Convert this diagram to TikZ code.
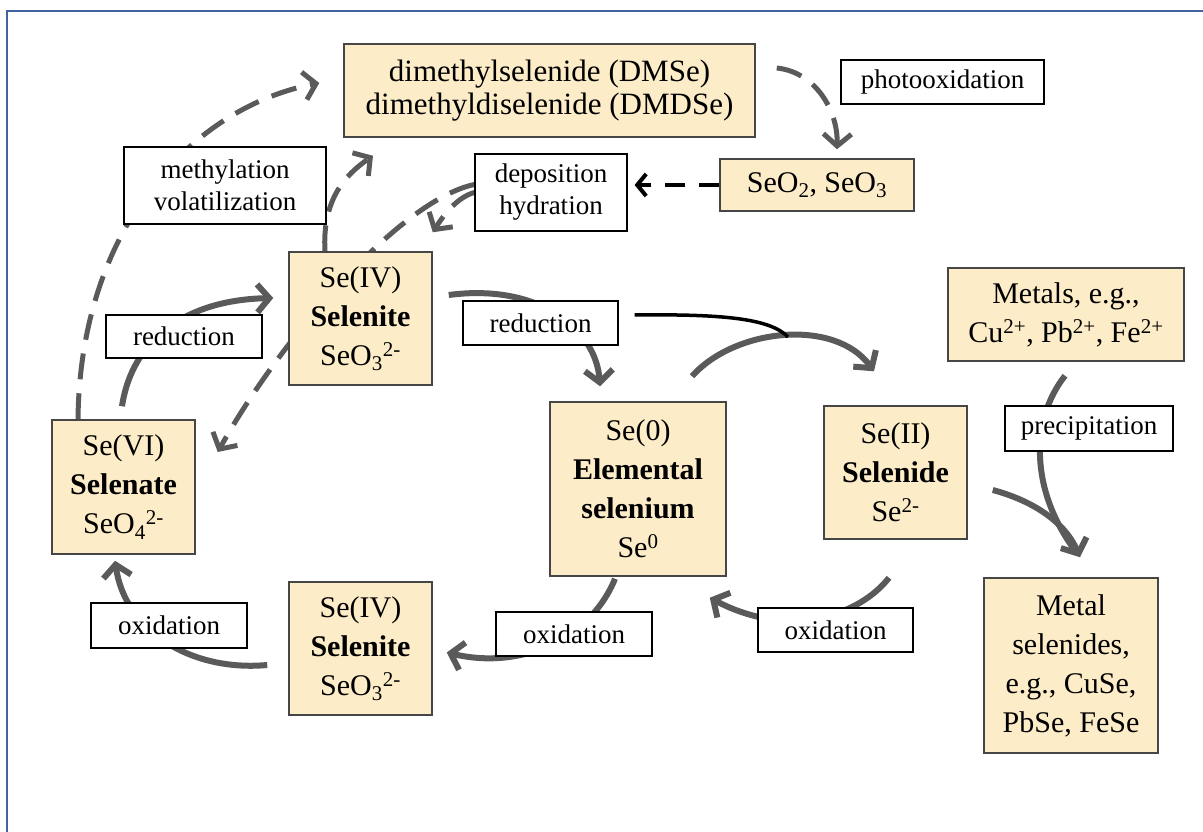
\documentclass[tikz,border=0pt]{standalone}
\usepackage{fontspec}
\setmainfont{Liberation Serif}
\usetikzlibrary{arrows.meta,backgrounds,calc}
\definecolor{boxfill}{RGB}{253,236,200}
\definecolor{boxline}{RGB}{70,70,70}
\definecolor{arrowgray}{RGB}{90,90,90}
\definecolor{frameblue}{RGB}{65,100,160}
\tikzset{species_box/.style={draw=boxline, line width=1.5pt, fill=boxfill, inner sep=0pt, align=center, font=\fontsize{30}{39}\selectfont}}
\tikzset{process_label/.style={draw=black, line width=1.2pt, fill=white, inner sep=0pt, align=center, font=\fontsize{27}{32}\selectfont}}
\tikzset{flow_solid/.style={draw=arrowgray, line width=6pt, -{Straight Barb[length=12pt,width=28pt]}}}
\tikzset{flow_dashed/.style={draw=arrowgray, line width=5pt, dash pattern=on 26pt off 14pt, -{Straight Barb[length=12pt,width=28pt]}}}
\tikzset{flow_black/.style={draw=black, line width=4pt, dash pattern=on 20pt off 14pt, -{Straight Barb[length=9pt,width=22pt]}}}

\begin{document}
\begin{tikzpicture}[x=1pt,y=-1pt]
    \useasboundingbox (0,0) rectangle (1203,832);
    \node[species_box, minimum width=411pt, minimum height=93pt, font=\fontsize{31}{33}\selectfont] (dmse) at (549.5,90.5) {dimethylselenide (DMSe)\\dimethyldiselenide (DMDSe)};
    \node[process_label, minimum width=203pt, minimum height=44pt] (photo) at (942.5,82) {photooxidation};
    \node[species_box, minimum width=194pt, minimum height=52pt] (seox) at (817,185) {SeO\textsubscript{2}, SeO\textsubscript{3}};
    \node[process_label, minimum width=152pt, minimum height=77pt] (depo) at (551,192.5) {deposition\\hydration};
    \node[process_label, minimum width=202pt, minimum height=77pt] (methyl) at (225,185.5) {methylation\\volatilization};
    \node[species_box, minimum width=143pt, minimum height=133pt] (seivtop) at (360.5,318.5) {Se(IV)\\\textbf{Selenite}\\SeO\textsubscript{3}\textsuperscript{2-}};
    \node[process_label, minimum width=156pt, minimum height=43pt] (redleft) at (184,336.5) {reduction};
    \node[process_label, minimum width=155pt, minimum height=44pt] (redmid) at (540.5,323) {reduction};
    \node[species_box, minimum width=236pt, minimum height=93pt] (metals) at (1066,314.5) {Metals, e.g.,\\Cu\textsuperscript{2+}, Pb\textsuperscript{2+}, Fe\textsuperscript{2+}};
    \node[species_box, minimum width=143pt, minimum height=134pt] (sevi) at (123.5,487) {Se(VI)\\\textbf{Selenate}\\SeO\textsubscript{4}\textsuperscript{2-}};
    \node[species_box, minimum width=176pt, minimum height=174pt] (sezero) at (638,489) {Se(0)\\\textbf{Elemental}\\\textbf{selenium}\\Se\textsuperscript{0}};
    \node[species_box, minimum width=143pt, minimum height=133pt] (seii) at (895.5,472.5) {Se(II)\\\textbf{Selenide}\\Se\textsuperscript{2-}};
    \node[process_label, minimum width=168pt, minimum height=45pt] (precip) at (1089,428.5) {precipitation};
    \node[species_box, minimum width=143pt, minimum height=133pt] (seivbot) at (360.5,648.5) {Se(IV)\\\textbf{Selenite}\\SeO\textsubscript{3}\textsuperscript{2-}};
    \node[process_label, minimum width=156pt, minimum height=45pt] (oxleft) at (169,625.5) {oxidation};
    \node[process_label, minimum width=156pt, minimum height=44pt] (oxmid) at (574,634) {oxidation};
    \node[process_label, minimum width=155pt, minimum height=44pt] (oxright) at (835.5,630) {oxidation};
    \node[species_box, minimum width=174pt, minimum height=175pt] (metsel) at (1071,665.5) {Metal\\selenides,\\e.g., CuSe,\\PbSe, FeSe};
    \coordinate (join) at (788,337);
    \coordinate (mtip) at ($(metsel.north)+(9,-20)$);
    \begin{pgfonlayer}{background}
    \draw[frameblue, line width=2pt] (7,11) rectangle (1230,860);
    \draw[flow_dashed] ($(sevi.north)+(-45.5,0)$) .. controls (80,230) and (190,108) .. ($(dmse.west)+(-24,-7.5)$);
    \draw[flow_dashed] ($(seivtop.north)+(-35.5,0)$) .. controls (322,200) and (345,175) .. ($(dmse.south)+(-176.5,18)$);
    \draw[flow_dashed] ($(dmse.east)+(21,-22.5)$) .. controls (815,72) and (838,110) .. ($(seox.north)+(20,-9)$);
    \draw[flow_black] (seox.west) -- ($(depo.east |- seox.west)+(7,0)$);
    \draw[flow_dashed] (depo.west) .. controls (458,197) and (445,213) .. ($(seivtop.north east)+(0,-19)$);
    \draw[flow_dashed] ($(depo.west)+(0,-8)$) .. controls (400,200) and (280,340) .. ($(sevi.east)+(22,-35)$);
    \draw[flow_solid] ($(sevi.north)+(-1.5,-13)$) .. controls (132,340) and (185,300) .. ($(seivtop.west)+(-15,-20.5)$);
    \draw[flow_solid] ($(seivtop.east)+(16,-23.5)$) .. controls (540,283) and (596,330) .. ($(sezero.north)+(-38,-15)$);
    \draw[flow_solid] ($(sezero.north)+(54,-25)$) .. controls (735,328) and (835,318) .. ($(seii.north)+(-21.5,-34)$);
    \draw[black, line width=3.5pt] ($(redmid.east)+(16,-8)$) .. controls (720,314) and (770,318) .. (join);
    \draw[draw=arrowgray, line width=6pt, shorten >=8pt] ($(metals.south)+(-1,14)$) .. controls (1030,420) and (1030,490) .. (mtip);
    \draw[flow_solid] ($(seii.east)+(25,17.5)$) .. controls (1030,500) and (1064,520) .. (mtip);
    \draw[flow_solid] ($(seii.south)+(-6.5,38)$) .. controls (860,615) and (790,640) .. ($(sezero.south east)+(-17,21)$);
    \draw[flow_solid] ($(sezero.south)+(-23,2)$) .. controls (590,640) and (520,670) .. ($(seivbot.east)+(14,4)$);
    \draw[flow_solid] ($(seivbot.west)+(-21,16.5)$) .. controls (190,672) and (125,630) .. ($(sevi.south)+(-8.5,6)$);
    \end{pgfonlayer}
\end{tikzpicture}
\end{document}
